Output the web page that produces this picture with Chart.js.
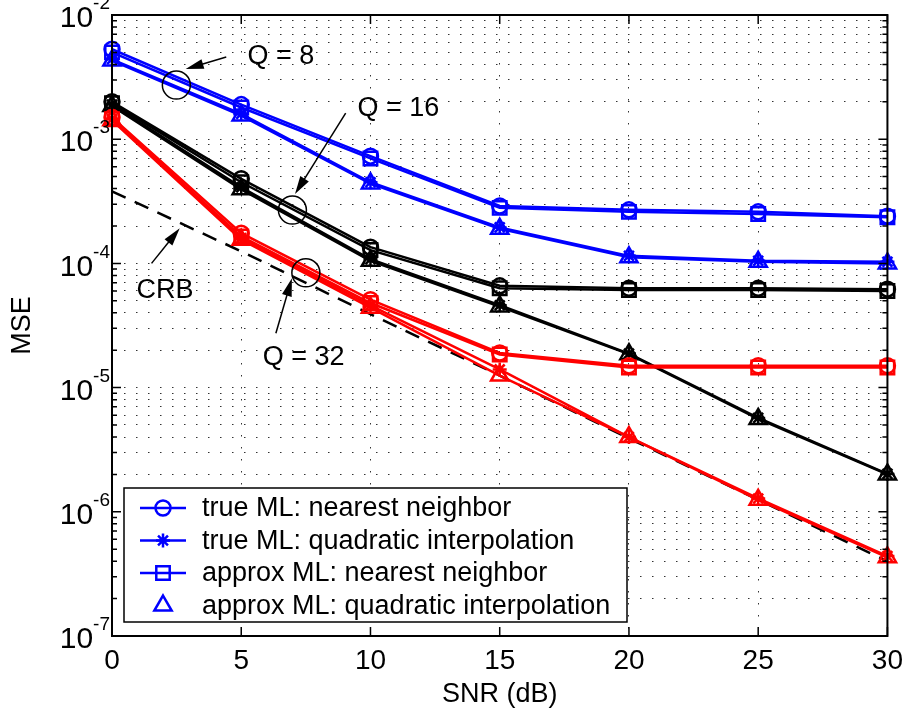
<!DOCTYPE html>
<html>
<head>
<meta charset="utf-8">
<script src="https://cdn.jsdelivr.net/npm/chart.js@4.4.1/dist/chart.umd.min.js"></script>
<style>
html, body { margin: 0; padding: 0; background: #fff; }
#wrap { width: 911px; height: 715px; }
</style>
</head>
<body>
<div id="wrap"><canvas id="chart" width="911" height="715"></canvas></div>
<script>
var snr = [0, 5, 10, 15, 20, 25, 30];

// Q = 8 (blue)
var q8TrueNearest    = [5.3e-3, 1.9e-3, 7.3e-4, 2.9e-4, 2.7e-4, 2.6e-4, 2.4e-4];
var q8TrueQuadratic  = [4.4e-3, 1.6e-3, 4.5e-4, 1.95e-4, 1.15e-4, 1.05e-4, 1.03e-4];
var q8ApproxNearest  = [5.0e-3, 1.8e-3, 7.0e-4, 2.8e-4, 2.6e-4, 2.5e-4, 2.35e-4];
var q8ApproxQuadratic = [4.3e-3, 1.55e-3, 4.4e-4, 1.9e-4, 1.12e-4, 1.03e-4, 1.0e-4];

// Q = 16 (black)
var q16TrueNearest    = [2.0e-3, 4.8e-4, 1.35e-4, 6.6e-5, 6.3e-5, 6.3e-5, 6.2e-5];
var q16TrueQuadratic  = [1.9e-3, 4.1e-4, 1.08e-4, 4.6e-5, 1.88e-5, 5.7e-6, 2.02e-6];
var q16ApproxNearest  = [1.95e-3, 4.5e-4, 1.28e-4, 6.3e-5, 6.1e-5, 6.1e-5, 6.0e-5];
var q16ApproxQuadratic = [1.85e-3, 3.95e-4, 1.05e-4, 4.5e-5, 1.86e-5, 5.6e-6, 2.0e-6];

// Q = 32 (red)
var q32TrueNearest    = [1.5e-3, 1.75e-4, 5.1e-5, 1.9e-5, 1.5e-5, 1.5e-5, 1.5e-5];
var q32TrueQuadratic  = [1.45e-3, 1.6e-4, 4.6e-5, 1.4e-5, 4.0e-6, 1.28e-6, 4.4e-7];
var q32ApproxNearest  = [1.45e-3, 1.65e-4, 4.8e-5, 1.85e-5, 1.45e-5, 1.45e-5, 1.45e-5];
var q32ApproxQuadratic = [1.42e-3, 1.55e-4, 4.4e-5, 1.25e-5, 4.0e-6, 1.25e-6, 4.3e-7];

// Cramer-Rao bound
var crb = [3.8e-4, 1.25e-4, 3.9e-5, 1.25e-5, 3.9e-6, 1.25e-6, 4.0e-7];

var xTicks = [0, 5, 10, 15, 20, 25, 30];
var yDecades = [-7, -6, -5, -4, -3, -2];

var legendLabels = [
    'true ML: nearest neighbor',
    'true ML: quadratic interpolation',
    'approx ML: nearest neighbor',
    'approx ML: quadratic interpolation'
];
var legendStyles = ['circle', 'star', 'rect', 'triangle'];

// annotations, anchored in data units
var notes = [
    { text: 'Q = 8',  tx: 5.24, ty: 4.6e-3, ax: 4.42, ay: 4.59e-3, hx: 2.85, hy: 3.67e-3, cx: 2.49, cy: 2.73e-3 },
    { text: 'Q = 16', tx: 9.5,  ty: 1.75e-3, ax: 9.04, ay: 1.62e-3, hx: 7.08, hy: 3.62e-4, cx: 6.98, cy: 2.69e-4 },
    { text: 'CRB',    tx: 0.95, ty: 6.1e-5, ax: 1.53, ay: 1.0e-4, hx: 2.62, hy: 1.92e-4 },
    { text: 'Q = 32', tx: 5.83, ty: 1.75e-5, ax: 6.34, ay: 2.74e-5, hx: 6.96, hy: 7.6e-5, cx: 7.5, cy: 8.4e-5 }
];

var FONT = '"Liberation Sans", Arial, Helvetica, sans-serif';
var BLUE = '#0000ff', RED = '#ff0000', BLACK = '#000000';

var yTickValues = [];
yDecades.forEach(function (e) {
    for (var m = 1; m <= 9; m++) {
        if (e === -2 && m > 1) break;
        yTickValues.push(m * Math.pow(10, e));
    }
});

function pts(vals) {
    return snr.map(function (s, i) { return { x: s, y: vals[i] }; });
}

function series(label, vals, color, style) {
    var radius = { circle: 7.5, star: 7, rect: 9.5, triangle: 10 }[style];
    return {
        label: label,
        data: pts(vals),
        borderColor: color,
        borderWidth: 2.5,
        pointStyle: style,
        pointRadius: radius,
        pointBorderWidth: 2.5,
        pointBorderColor: color,
        pointBackgroundColor: 'rgba(0,0,0,0)',
        tension: 0,
        fill: false,
        clip: false
    };
}

var datasets = [
    series('Q32 true NN', q32TrueNearest, RED, 'circle'),
    series('Q32 true QI', q32TrueQuadratic, RED, 'star'),
    series('Q32 approx NN', q32ApproxNearest, RED, 'rect'),
    series('Q32 approx QI', q32ApproxQuadratic, RED, 'triangle'),
    series('Q16 true NN', q16TrueNearest, BLACK, 'circle'),
    series('Q16 true QI', q16TrueQuadratic, BLACK, 'star'),
    series('Q16 approx NN', q16ApproxNearest, BLACK, 'rect'),
    series('Q16 approx QI', q16ApproxQuadratic, BLACK, 'triangle'),
    series('Q8 true NN', q8TrueNearest, BLUE, 'circle'),
    series('Q8 true QI', q8TrueQuadratic, BLUE, 'star'),
    series('Q8 approx NN', q8ApproxNearest, BLUE, 'rect'),
    series('Q8 approx QI', q8ApproxQuadratic, BLUE, 'triangle'),
    {
        label: 'CRB',
        data: pts(crb),
        borderColor: BLACK,
        borderWidth: 2.5,
        borderDash: [15, 10],
        pointRadius: 0,
        tension: 0,
        fill: false
    }
];

function arrow(ctx, x1, y1, x2, y2) {
    var a = Math.atan2(y2 - y1, x2 - x1), L = 18, W = 5;
    var c = Math.cos(a), s = Math.sin(a);
    ctx.beginPath();
    ctx.moveTo(x1, y1);
    ctx.lineTo(x2 - L * 0.8 * c, y2 - L * 0.8 * s);
    ctx.stroke();
    ctx.beginPath();
    ctx.moveTo(x2, y2);
    ctx.lineTo(x2 - L * c + W * s, y2 - L * s - W * c);
    ctx.lineTo(x2 - L * c - W * s, y2 - L * s + W * c);
    ctx.closePath();
    ctx.fill();
}

function marker(ctx, style, x, y, color) {
    var radius = { circle: 7.5, star: 7, rect: 9.5, triangle: 10 }[style];
    ctx.strokeStyle = color;
    ctx.fillStyle = 'rgba(0,0,0,0)';
    ctx.lineWidth = 2.5;
    Chart.helpers.drawPoint(ctx, { pointStyle: style, rotation: 0, radius: radius, borderWidth: 2.5 }, x, y);
}

var matlabAxes = {
    id: 'matlabAxes',
    afterDatasetsDraw: function (chart) {
        var ctx = chart.ctx, area = chart.chartArea;
        var xs = chart.scales.x, ys = chart.scales.y;
        ctx.save();

        // annotations
        ctx.strokeStyle = BLACK;
        ctx.fillStyle = BLACK;
        ctx.lineWidth = 1.5;
        ctx.font = '27px ' + FONT;
        ctx.textAlign = 'left';
        ctx.textBaseline = 'middle';
        notes.forEach(function (n) {
            if (n.cx !== undefined) {
                ctx.beginPath();
                ctx.arc(xs.getPixelForValue(n.cx), ys.getPixelForValue(n.cy), 14, 0, Math.PI * 2);
                ctx.stroke();
            }
            arrow(ctx, xs.getPixelForValue(n.ax), ys.getPixelForValue(n.ay),
                xs.getPixelForValue(n.hx), ys.getPixelForValue(n.hy));
            ctx.fillText(n.text, xs.getPixelForValue(n.tx), ys.getPixelForValue(n.ty));
        });

        // axes box
        ctx.lineWidth = 2;
        ctx.strokeStyle = BLACK;
        ctx.strokeRect(area.left, area.top, area.right - area.left, area.bottom - area.top);

        // inward tick marks
        ctx.lineWidth = 1.5;
        ctx.beginPath();
        yTickValues.forEach(function (v) {
            var y = ys.getPixelForValue(v);
            var major = Math.abs(Math.log10(v) - Math.round(Math.log10(v))) < 1e-6;
            var len = major ? 9 : 5;
            ctx.moveTo(area.left, y); ctx.lineTo(area.left + len, y);
            ctx.moveTo(area.right, y); ctx.lineTo(area.right - len, y);
        });
        xTicks.forEach(function (v) {
            var x = xs.getPixelForValue(v);
            ctx.moveTo(x, area.bottom); ctx.lineTo(x, area.bottom - 9);
            ctx.moveTo(x, area.top); ctx.lineTo(x, area.top + 9);
        });
        ctx.stroke();

        // y tick labels with exponents
        ctx.fillStyle = BLACK;
        ctx.textBaseline = 'middle';
        yDecades.forEach(function (e) {
            var y = ys.getPixelForValue(Math.pow(10, e));
            var ex = '-' + Math.abs(e);
            ctx.font = '19px ' + FONT;
            var w = ctx.measureText(ex).width;
            var x0 = area.left - 2 - w;
            ctx.textAlign = 'left';
            ctx.fillText(ex, x0, y - 11);
            ctx.font = '30px ' + FONT;
            ctx.textAlign = 'right';
            ctx.fillText('10', x0, y + 4);
        });

        // legend
        var lx = 124, ly = 488, lw = 503, lh = 134;
        ctx.fillStyle = '#ffffff';
        ctx.fillRect(lx, ly, lw, lh);
        ctx.lineWidth = 1.5;
        ctx.strokeStyle = BLACK;
        ctx.strokeRect(lx, ly, lw, lh);
        ctx.font = '27px ' + FONT;
        ctx.textAlign = 'left';
        ctx.textBaseline = 'middle';
        legendLabels.forEach(function (label, i) {
            var ry = 508 + i * 32.5;
            if (i < 3) {
                ctx.strokeStyle = BLUE;
                ctx.lineWidth = 2.5;
                ctx.beginPath();
                ctx.moveTo(140, ry); ctx.lineTo(186, ry);
                ctx.stroke();
            }
            marker(ctx, legendStyles[i], 163, ry, BLUE);
            ctx.fillStyle = BLACK;
            ctx.fillText(label, 202, ry + 1);
        });

        ctx.restore();
    }
};

var ctx = document.getElementById('chart').getContext('2d');
var chart = new Chart(ctx, {
    type: 'line',
    data: { datasets: datasets },
    options: {
        responsive: false,
        animation: false,
        layout: { padding: { top: 15, right: 20, left: 0, bottom: 0 } },
        plugins: {
            legend: { display: false },
            tooltip: { enabled: false }
        },
        scales: {
            x: {
                type: 'linear',
                min: 0,
                max: 30,
                afterBuildTicks: function (scale) {
                    scale.ticks = xTicks.map(function (v) { return { value: v }; });
                },
                ticks: { font: { family: FONT, size: 28 }, color: BLACK, padding: 8, maxRotation: 0 },
                grid: { color: '#333', lineWidth: 1, drawTicks: false },
                border: { display: false, dash: [1.5, 10.5] },
                title: { display: true, text: 'SNR (dB)', color: BLACK, font: { family: FONT, size: 27 }, padding: { bottom: 4 } },
                afterFit: function (scale) { scale.height = 79; }
            },
            y: {
                type: 'logarithmic',
                min: 1e-7,
                max: 1e-2,
                afterBuildTicks: function (scale) {
                    scale.ticks = yTickValues.map(function (v) { return { value: v }; });
                },
                ticks: { display: false },
                grid: { color: '#333', lineWidth: 1, drawTicks: false },
                border: { display: false, dash: [1.5, 10.5] },
                title: { display: true, text: 'MSE', color: BLACK, font: { family: FONT, size: 27 }, padding: { top: 6 } },
                afterFit: function (scale) { scale.width = 112; }
            }
        }
    },
    plugins: [matlabAxes]
});
</script>
</body>
</html>
